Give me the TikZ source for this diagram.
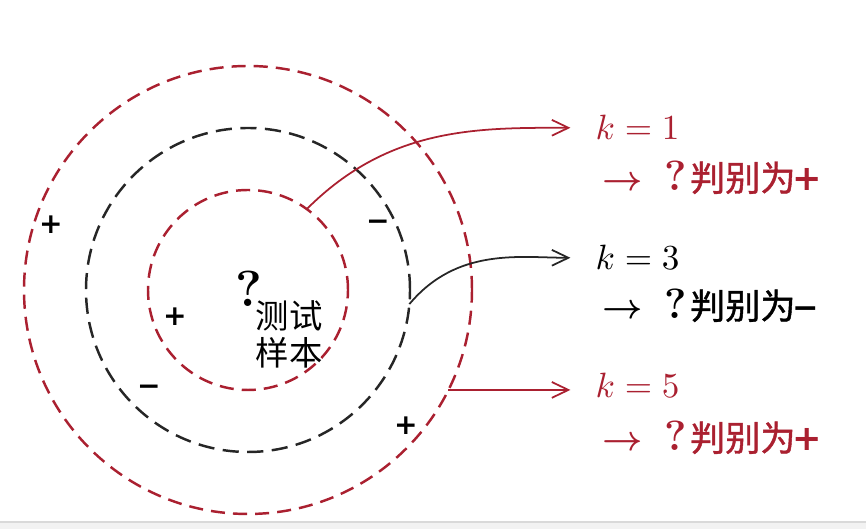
\documentclass[tikz,border=0pt]{standalone}
\usepackage{bm}
\usepackage{fontspec}
\newfontfamily\cjk{Noto Sans CJK SC}
\newfontfamily\cjkm[FakeBold=1.2]{Noto Sans CJK SC}
\newfontfamily\signfont{DejaVu Sans}
\usetikzlibrary{arrows.meta}
\definecolor{knnred}{RGB}{170,32,48}
\newcommand{\verdict}[1]{$\bm{\rightarrow}$\hspace{6pt}{\large\bfseries ?}\hspace{1pt}{\cjkm 判别为}\hspace{-1pt}{\signfont\bfseries #1}}
\tikzset{
 ring/.style={line width=0.7pt, dash pattern=on 4pt off 2.3pt},
 blackring/.style={ring, dash pattern=on 4.6pt off 2.4pt},
 sign/.style={inner sep=0pt, font=\signfont\bfseries\footnotesize},
 lead/.style={line width=0.5pt, shorten >=7pt, -{Straight Barb[length=4.7pt,width=4.5pt]}},
 klabel/.style={anchor=base west, inner sep=0pt},
}
\begin{document}
\begin{tikzpicture}
 \useasboundingbox (0,0) rectangle (8.66,5.29);
 \fill[black!5] (0,0) rectangle (8.66,0.07);
 \draw[black!15, line width=0.4pt] (0,0.07) -- (8.66,0.07);
 \coordinate (o) at (2.48,2.39);
 \draw[ring, knnred] (o) circle (1.00);
 \draw[blackring, black!85] (o) circle (1.62);
 \draw[ring, knnred] (o) circle (2.24);
 \node[sign] (p1) at (0.51,3.04) {+};
 \node[sign] (m1) at (3.78,3.04) {−};
 \node[sign] (p2) at (1.75,2.12) {+};
 \node[sign] (m2) at (1.49,1.39) {−};
 \node[sign] (p3) at (4.06,1.03) {+};
 \node[inner sep=0pt, font=\Large\bfseries] (q) at (2.49,2.40) {?};
 \node[inner sep=0pt, align=center, font=\cjk\fontsize{9.5}{10.5}\selectfont] (test) at (2.89,1.95) {测试\\样本};
 \node[klabel, knnred] (k1) at (5.95,3.89) {$k=1$};
 \node[klabel, knnred] (r1) at (6.02,3.38) {\verdict{+}};
 \node[klabel] (k3) at (5.95,2.59) {$k=3$};
 \node[klabel] (r3) at (6.02,2.10) {\verdict{\small −}};
 \node[klabel, knnred] (k5) at (5.95,1.31) {$k=5$};
 \node[klabel, knnred] (r5) at (6.02,0.78) {\verdict{+}};
 \coordinate (c1) at ([shift={(54:1.00)}]o);
 \coordinate (c3) at ([shift={(-5:1.62)}]o);
 \coordinate (c5) at ([shift={(-26.5:2.24)}]o);
 \draw[lead, knnred] (c1) to[out=45, in=180] (k1.west);
 \draw[lead, black!85] (c3) to[out=50, in=180] (k3.west);
 \draw[lead, knnred] (c5) -- (c5 -| k5.west);
\end{tikzpicture}
\end{document}
